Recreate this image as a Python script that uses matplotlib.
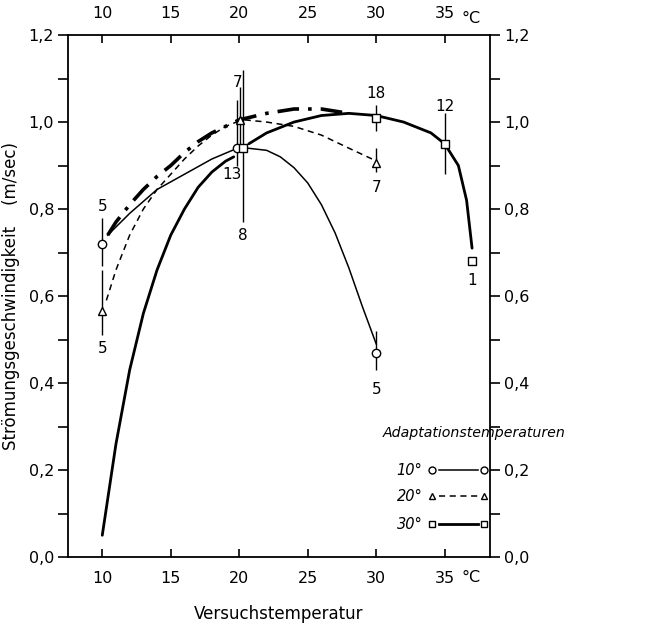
import matplotlib
matplotlib.use("Agg")
import matplotlib.pyplot as plt
from matplotlib.ticker import MultipleLocator

# ---------------- data ----------------
# measured points: adaptation 10 deg (circles)
x10 = [10.0, 19.85, 30.0]
y10 = [0.72, 0.94, 0.47]
lo10 = [0.67, 0.90, 0.43]
hi10 = [0.78, 1.05, 0.52]
n10 = ["5", "13", "5"]

# adaptation 20 deg (triangles)
x20 = [10.0, 20.05, 30.0]
y20 = [0.565, 1.005, 0.905]
lo20 = [0.51, 0.93, 0.885]
hi20 = [0.66, 1.08, 0.94]
n20 = ["5", "7", "7"]

# adaptation 30 deg (squares)
x30 = [20.25, 30.0, 35.0, 37.0]
y30 = [0.94, 1.01, 0.95, 0.68]
lo30 = [0.77, 0.98, 0.88, 0.68]
hi30 = [1.12, 1.04, 1.02, 0.68]
n30 = ["8", "18", "12", "1"]

# hand-drawn curves
c10a_x = [10.4, 12, 14, 16, 18, 19.5]
c10a_y = [0.74, 0.79, 0.845, 0.88, 0.915, 0.935]
c10b_x = [20.6, 22, 23, 24, 25, 26, 27, 28, 29, 30]
c10b_y = [0.94, 0.935, 0.92, 0.895, 0.86, 0.81, 0.745, 0.665, 0.575, 0.49]

c20a_x = [10.3, 11, 12, 13, 14, 15, 16, 17, 18, 19, 19.8]
c20a_y = [0.59, 0.66, 0.74, 0.80, 0.845, 0.88, 0.915, 0.945, 0.97, 0.99, 1.0]
c20b_x = [20.4, 22, 24, 26, 28, 29.7]
c20b_y = [1.005, 1.0, 0.99, 0.97, 0.94, 0.915]

env_x = [10.4, 11, 12, 13, 14, 15, 16, 17, 18, 19, 20, 22, 24, 26, 28]
env_y = [0.74, 0.77, 0.81, 0.845, 0.875, 0.90, 0.93, 0.955, 0.975, 0.99, 1.005, 1.02, 1.03, 1.03, 1.02]

c30a_x = [10, 11, 12, 13, 14, 15, 16, 17, 18, 19, 19.6]
c30a_y = [0.05, 0.26, 0.43, 0.56, 0.66, 0.74, 0.80, 0.85, 0.885, 0.91, 0.92]
c30b_x = [20.7, 22, 24, 26, 28, 30, 32, 34, 35, 36, 36.6, 37]
c30b_y = [0.95, 0.975, 1.0, 1.015, 1.02, 1.015, 1.0, 0.975, 0.95, 0.9, 0.82, 0.71]

xticks = [10, 15, 20, 25, 30, 35]
xticklabels = ["10", "15", "20", "25", "30", "35"]
yticks = [0.0, 0.2, 0.4, 0.6, 0.8, 1.0, 1.2]
yticklabels = ["0,0", "0,2", "0,4", "0,6", "0,8", "1,0", "1,2"]

legend_title = "Adaptationstemperaturen"
legend_labels = ["10°", "20°", "30°"]

# ---------------- figure ----------------
plt.rcParams['font.family'] = ['DejaVu Sans']
fig = plt.figure(figsize=(6.51, 6.35), dpi=100)
ax = fig.add_axes([0.1045, 0.1228, 0.648, 0.822])
ax.set_xlim(7.5, 38.3)
ax.set_ylim(0, 1.2)

k = 'black'
ax.plot(c30a_x, c30a_y, color=k, lw=2.0, solid_capstyle='round')
ax.plot(c30b_x, c30b_y, color=k, lw=2.0, solid_capstyle='round')
ax.plot(env_x, env_y, color=k, lw=2.6, linestyle=(0, (6, 2.5, 1, 2.5)))
ax.plot(c10a_x, c10a_y, color=k, lw=1.1)
ax.plot(c10b_x, c10b_y, color=k, lw=1.1)
ax.plot(c20a_x, c20a_y, color=k, lw=1.1, linestyle=(0, (4, 3)))
ax.plot(c20b_x, c20b_y, color=k, lw=1.1, linestyle=(0, (4, 3)))

for xs, lo, hi in [(x10, lo10, hi10), (x20, lo20, hi20), (x30, lo30, hi30)]:
    ax.vlines(xs, lo, hi, color=k, lw=1.0)

ms = 6
ax.plot(x10, y10, 'o', ms=ms, mfc='white', mec=k, mew=1.0, ls='none', zorder=5)
ax.plot(x20, y20, '^', ms=ms, mfc='white', mec=k, mew=1.0, ls='none', zorder=5)
ax.plot(x30, y30, 's', ms=ms - 0.5, mfc='white', mec=k, mew=1.0, ls='none', zorder=5)

fs_n = 11
def nlab(x, y, s, dy, dx=0.0):
    ax.text(x + dx, y + dy, s, ha='center', va='center', fontsize=fs_n)

nlab(x10[0], y10[0], n10[0], 0.085)
nlab(x10[1], y10[1], n10[1], -0.06, -0.35)
nlab(x10[2], y10[2], n10[2], -0.085)
nlab(x20[0], y20[0], n20[0], -0.085)
nlab(x20[1], y20[1], n20[1], 0.085, -0.2)
nlab(x20[2], y20[2], n20[2], -0.055)
nlab(x30[0], y30[0], n30[0], -0.2)
nlab(x30[1], y30[1], n30[1], 0.055)
nlab(x30[2], y30[2], n30[2], 0.085)
nlab(x30[3], y30[3], n30[3], -0.045)

# axes and ticks
for sp in ax.spines.values():
    sp.set_linewidth(1.3)
ax.set_xticks(xticks)
ax.set_xticklabels(xticklabels)
ax.set_yticks(yticks)
ax.set_yticklabels(yticklabels)
ax.yaxis.set_minor_locator(MultipleLocator(0.1))
ax.tick_params(axis='x', which='both', direction='in', top=True, labeltop=True,
               length=6, width=1.2, labelsize=11.5)
ax.tick_params(axis='x', which='major', bottom=True, pad=10)
ax.tick_params(axis='y', which='both', direction='out', right=True, labelright=True,
               length=7, width=1.2, labelsize=11.5, pad=3)

# the degree sign after "35" on top and bottom scale
ax.annotate("°C", xy=(36.2, 1.2), xycoords='data', xytext=(0, 12), textcoords='offset points',
            fontsize=11.5, ha='left', va='center')
ax.annotate("°C", xy=(36.2, 0.0), xycoords='data', xytext=(0, -15), textcoords='offset points',
            fontsize=11.5, ha='left', va='center')

ax.set_xlabel("Versuchstemperatur", fontsize=12, labelpad=14)
ax.set_ylabel("Strömungsgeschwindigkeit    (m/sec)", fontsize=12)
ax.yaxis.set_label_coords(-0.115, 0.5)

# legend drawn as in the original
ax.text(30.5, 0.285, legend_title, fontsize=10.2, style='italic', ha='left', va='center')
leg_y = [0.2, 0.14, 0.075]
styles = [('o', '-', 1.1), ('^', (0, (4, 3)), 1.1), ('s', '-', 2.0)]
for yy, lab, (mk, lsy, lw) in zip(leg_y, legend_labels, styles):
    ax.text(31.5, yy, lab, fontsize=10.5, style='italic', ha='left', va='center')
    ax.plot([34.6, 37.4], [yy, yy], color=k, lw=lw, ls=lsy)
    ax.plot([34.1, 37.9], [yy, yy], mk, ms=5, mfc='white', mec=k, mew=1.0, ls='none', zorder=5)

fig.savefig("out.png", dpi=100)
